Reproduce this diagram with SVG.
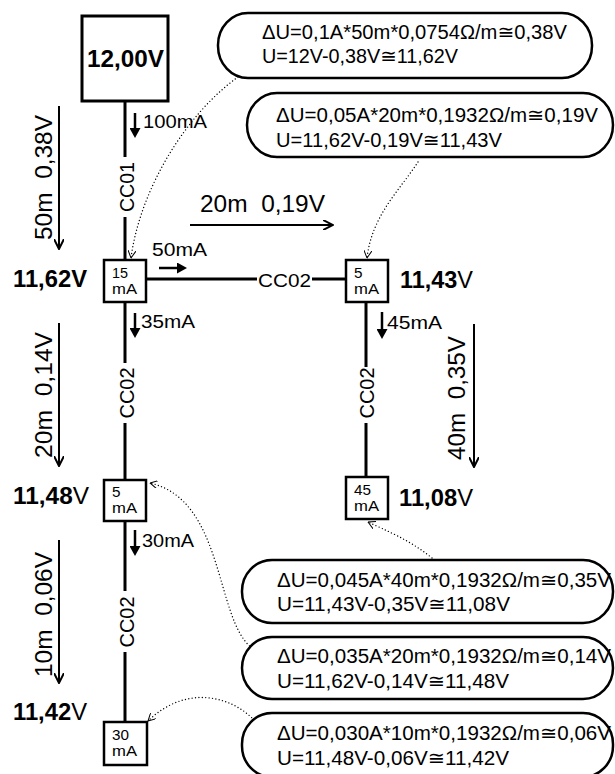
<svg xmlns="http://www.w3.org/2000/svg" width="615" height="774" viewBox="0 0 615 774">
<defs>
<style>
text{font-family:"Liberation Sans",Arial,"DejaVu Sans",sans-serif;fill:#000}
.wire{stroke:#000;stroke-width:3;fill:none}
.box{fill:#fff;stroke:#000;stroke-width:2.5}
.bub{fill:#fff;stroke:#000;stroke-width:2.5}
.dot{stroke:#000;stroke-width:1.4;fill:none;stroke-dasharray:0 3.4;stroke-linecap:round;marker-end:url(#open)}
.len{stroke:#000;stroke-width:2;fill:none;marker-end:url(#chev)}
.cur{stroke:#000;stroke-width:2.5;fill:none;marker-end:url(#tri)}
.bl{font-size:19.5px}
.ml{font-size:19px}
.bx{font-size:14px}
.cc{font-size:20px}
.lg{font-size:23.5px}
.vt{font-size:24px;font-weight:bold}
.n{font-weight:normal}
</style>
<marker id="chev" markerUnits="userSpaceOnUse" viewBox="0 0 11 10" refX="10" refY="5" markerWidth="11" markerHeight="10" orient="auto">
<path d="M0,0 L10,5 L0,10" fill="none" stroke="#000" stroke-width="2"/>
</marker>
<marker id="tri" markerUnits="userSpaceOnUse" viewBox="0 0 10 11" refX="0" refY="5.5" markerWidth="10" markerHeight="11" orient="auto">
<path d="M0,0 L10,5.5 L0,11 z" fill="#000"/>
</marker>
<marker id="open" markerUnits="userSpaceOnUse" viewBox="0 0 8 8" refX="7.5" refY="4" markerWidth="8" markerHeight="8" orient="auto">
<path d="M0,0 L7.5,4 L0,8" fill="none" stroke="#000" stroke-width="1"/>
</marker>
</defs>
<rect width="615" height="774" fill="#fff"/>

<g id="connectors">
<path class="wire" d="M125,101 V157 M125,217 V260 M125,302 V363 M125,423 V480 M125,521 V591 M125,652 V722 M146,279 H257 M312,279 H346 M366,302 V367 M366,423 V477"/>
<text class="cc" transform="translate(134,187) rotate(-90)" text-anchor="middle" textLength="50" lengthAdjust="spacingAndGlyphs">CC01</text>
<text class="cc" transform="translate(134,393) rotate(-90)" text-anchor="middle" textLength="51" lengthAdjust="spacingAndGlyphs">CC02</text>
<text class="cc" transform="translate(134,622) rotate(-90)" text-anchor="middle" textLength="51" lengthAdjust="spacingAndGlyphs">CC02</text>
<text class="cc" transform="translate(374,393) rotate(-90)" text-anchor="middle" textLength="51" lengthAdjust="spacingAndGlyphs">CC02</text>
<text class="ml" x="284.5" y="287" text-anchor="middle" textLength="53" lengthAdjust="spacingAndGlyphs">CC02</text>
<path class="dot" d="M238,77 C185,115 140,190 131,258"/>
<path class="dot" d="M418,162 C400,190 372,215 367,258"/>
<path class="dot" d="M432,558 C410,540 385,530 368,522"/>
<path class="dot" d="M252,648 C215,620 225,500 150,483"/>
<path class="dot" d="M254,720 C230,695 185,685 148,721"/>
</g>

<g id="currents">
<path class="cur" d="M135,113 V128"/>
<text class="ml" x="143" y="128" textLength="64" lengthAdjust="spacingAndGlyphs">100mA</text>
<path class="cur" d="M159,268 H177"/>
<text class="ml" x="152" y="256" textLength="55" lengthAdjust="spacingAndGlyphs">50mA</text>
<path class="cur" d="M135,313 V328"/>
<text class="ml" x="141" y="328" textLength="54" lengthAdjust="spacingAndGlyphs">35mA</text>
<path class="cur" d="M382,312 V329"/>
<text class="ml" x="387" y="329" textLength="55" lengthAdjust="spacingAndGlyphs">45mA</text>
<path class="cur" d="M135,530 V546"/>
<text class="ml" x="142" y="547" textLength="52" lengthAdjust="spacingAndGlyphs">30mA</text>
</g>

<g id="lengths">
<path class="len" d="M59,106 V249"/>
<text class="lg" xml:space="preserve" transform="translate(52,177.5) rotate(-90)" text-anchor="middle" textLength="125" lengthAdjust="spacingAndGlyphs">50m  0,38V</text>
<path class="len" d="M59,323 V466"/>
<text class="lg" xml:space="preserve" transform="translate(52,395) rotate(-90)" text-anchor="middle" textLength="126" lengthAdjust="spacingAndGlyphs">20m  0,14V</text>
<path class="len" d="M59,540 V683"/>
<text class="lg" xml:space="preserve" transform="translate(52,614.5) rotate(-90)" text-anchor="middle" textLength="125" lengthAdjust="spacingAndGlyphs">10m  0,06V</text>
<path class="len" d="M474,324 V467"/>
<text class="lg" xml:space="preserve" transform="translate(465,398) rotate(-90)" text-anchor="middle" textLength="124" lengthAdjust="spacingAndGlyphs">40m  0,35V</text>
<path class="len" d="M190,225 H333"/>
<text class="lg" xml:space="preserve" x="200" y="212" textLength="125" lengthAdjust="spacingAndGlyphs">20m  0,19V</text>
</g>

<g id="source">
<rect x="82" y="16" width="86" height="85" fill="#fff" stroke="#000" stroke-width="3"/>
<text class="vt" x="125.5" y="67" text-anchor="middle" font-size="25" textLength="77" lengthAdjust="spacingAndGlyphs">12,00V</text>
</g>

<g id="node-15mA">
<rect class="box" x="104" y="260" width="42" height="42"/>
<text class="bx"><tspan x="112" y="278" textLength="16" lengthAdjust="spacingAndGlyphs">15</tspan><tspan x="112" y="294" textLength="25" lengthAdjust="spacingAndGlyphs">mA</tspan></text>
<text class="vt" x="13" y="287" textLength="74" lengthAdjust="spacingAndGlyphs">11,62V</text>
</g>

<g id="node-5mA-right">
<rect class="box" x="346" y="260" width="42" height="42"/>
<text class="bx"><tspan x="354" y="278" textLength="8.5" lengthAdjust="spacingAndGlyphs">5</tspan><tspan x="354" y="294" textLength="25" lengthAdjust="spacingAndGlyphs">mA</tspan></text>
<text class="vt" x="400" y="288" textLength="73" lengthAdjust="spacingAndGlyphs">11,43<tspan class="n">V</tspan></text>
</g>

<g id="node-45mA">
<rect class="box" x="346" y="477" width="42" height="42"/>
<text class="bx"><tspan x="354" y="495" textLength="17" lengthAdjust="spacingAndGlyphs">45</tspan><tspan x="354" y="511" textLength="25" lengthAdjust="spacingAndGlyphs">mA</tspan></text>
<text class="vt" x="399" y="506" textLength="74" lengthAdjust="spacingAndGlyphs">11,08<tspan class="n">V</tspan></text>
</g>

<g id="node-5mA-left">
<rect class="box" x="104" y="480" width="42" height="41"/>
<text class="bx"><tspan x="112" y="497" textLength="8.5" lengthAdjust="spacingAndGlyphs">5</tspan><tspan x="112" y="513" textLength="25" lengthAdjust="spacingAndGlyphs">mA</tspan></text>
<text class="vt" x="13" y="504" textLength="76" lengthAdjust="spacingAndGlyphs">11,48<tspan class="n">V</tspan></text>
</g>

<g id="node-30mA">
<rect class="box" x="104" y="722" width="43" height="43"/>
<text class="bx"><tspan x="112" y="740" textLength="17" lengthAdjust="spacingAndGlyphs">30</tspan><tspan x="112" y="756" textLength="25" lengthAdjust="spacingAndGlyphs">mA</tspan></text>
<text class="vt" x="13" y="720" textLength="74" lengthAdjust="spacingAndGlyphs">11,42<tspan class="n">V</tspan></text>
</g>

<g id="note-1">
<rect class="bub" x="218" y="13" width="374" height="65" rx="30" ry="32"/>
<text class="bl" x="262" y="39" textLength="305" lengthAdjust="spacingAndGlyphs">ΔU=0,1A*50m*0,0754Ω/m≅0,38V</text>
<text class="bl" x="262" y="63" textLength="196" lengthAdjust="spacingAndGlyphs">U=12V-0,38V≅11,62V</text>
</g>

<g id="note-2">
<rect class="bub" x="247" y="93" width="366" height="64" rx="30" ry="32"/>
<text class="bl" x="276" y="122" textLength="322" lengthAdjust="spacingAndGlyphs">ΔU=0,05A*20m*0,1932Ω/m≅0,19V</text>
<text class="bl" x="276" y="147" textLength="226" lengthAdjust="spacingAndGlyphs">U=11,62V-0,19V≅11,43V</text>
</g>

<g id="note-3">
<rect class="bub" x="242" y="560" width="371" height="63" rx="30" ry="31"/>
<text class="bl" x="277" y="587" textLength="334" lengthAdjust="spacingAndGlyphs">ΔU=0,045A*40m*0,1932Ω/m≅0,35V</text>
<text class="bl" x="277" y="611" textLength="233" lengthAdjust="spacingAndGlyphs">U=11,43V-0,35V≅11,08V</text>
</g>

<g id="note-4">
<rect class="bub" x="242" y="637" width="371" height="62" rx="30" ry="31"/>
<text class="bl" x="277" y="663" textLength="334" lengthAdjust="spacingAndGlyphs">ΔU=0,035A*20m*0,1932Ω/m≅0,14V</text>
<text class="bl" x="277" y="688" textLength="232" lengthAdjust="spacingAndGlyphs">U=11,62V-0,14V≅11,48V</text>
</g>

<g id="note-5">
<rect class="bub" x="242" y="713" width="371" height="64" rx="30" ry="31"/>
<text class="bl" x="277" y="740" textLength="334" lengthAdjust="spacingAndGlyphs">ΔU=0,030A*10m*0,1932Ω/m≅0,06V</text>
<text class="bl" x="277" y="765" textLength="232" lengthAdjust="spacingAndGlyphs">U=11,48V-0,06V≅11,42V</text>
</g>
</svg>
